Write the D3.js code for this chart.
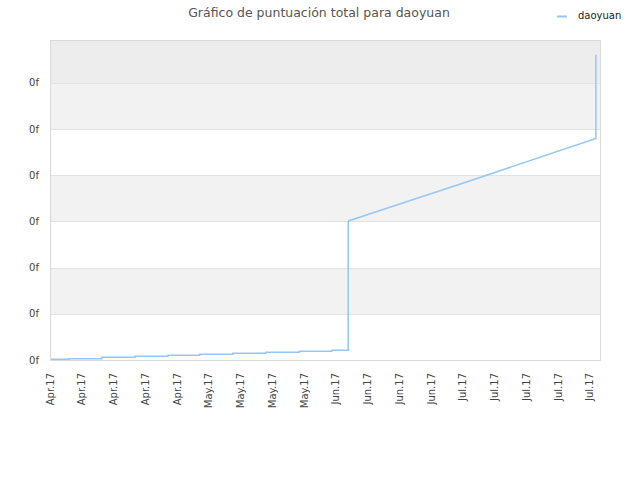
<!DOCTYPE html>
<html>
<head>
<meta charset="utf-8">
<script src="https://cdn.jsdelivr.net/npm/d3@7"></script>
<style>
  body { margin: 0; background: #fff; }
  text { font-family: "DejaVu Sans", sans-serif; }
</style>
</head>
<body>
<script>
// chart text
var title = "Gráfico de puntuación total para daoyuan";
var seriesName = "daoyuan";

// x ticks (days since first label) and their labels
var tickDays = [0, 7, 14, 21, 28, 35, 42, 49, 56, 63, 70, 77, 84, 91, 98, 105, 112, 119];
var tickLabels = ["Apr.17", "Apr.17", "Apr.17", "Apr.17", "Apr.17",
                  "May.17", "May.17", "May.17", "May.17",
                  "Jun.17", "Jun.17", "Jun.17", "Jun.17",
                  "Jul.17", "Jul.17", "Jul.17", "Jul.17", "Jul.17"];

// y ticks (all printed as "0f" in the original)
var yTicks = [0, 1, 2, 3, 4, 5, 6];
var yTickLabel = "0f";

// score series
var days   = [0, 4.0, 11.2, 18.5, 25.8, 32.8, 40.1, 47.4, 54.7, 61.9, 65.5, 92.4, 120.1, 120.1];
var scores = [0.015, 0.028, 0.058, 0.080, 0.102, 0.123, 0.145, 0.167, 0.188, 0.210, 3.01, 3.88, 4.80, 6.61];
var stairEnd = 10; // points up to here are drawn as steps

var w = 640, h = 480;
var plotL = 51, plotR = 600, plotT = 40, plotB = 360;

var svg = d3.select("body").append("svg")
    .attr("width", w)
    .attr("height", h);

var x = d3.scaleLinear().domain([0, 121]).range([plotL, plotR]);
var y = d3.scaleLinear().domain([0, 6.93]).range([plotB, plotT]);

// background bands
var bandEdges = yTicks.concat([6.93]);
svg.selectAll("rect.band")
   .data(d3.range(bandEdges.length - 1))
   .enter()
   .append("rect")
   .attr("class", "band")
   .attr("x", plotL)
   .attr("width", plotR - plotL)
   .attr("y", function(i) { return y(bandEdges[i + 1]); })
   .attr("height", function(i) { return y(bandEdges[i]) - y(bandEdges[i + 1]); })
   .attr("fill", function(i) {
      if (i == bandEdges.length - 2) return "#ededed";
      return i % 2 ? "#f2f2f2" : "#ffffff";
   });

// grid lines
svg.selectAll("line.grid")
   .data(yTicks)
   .enter()
   .append("line")
   .attr("x1", plotL)
   .attr("x2", plotR)
   .attr("y1", function(d) { return Math.round(y(d)) + 0.5; })
   .attr("y2", function(d) { return Math.round(y(d)) + 0.5; })
   .attr("stroke", "#e2e2e2");

// plot border
svg.append("rect")
   .attr("x", plotL - 0.5)
   .attr("y", plotT + 0.5)
   .attr("width", plotR - plotL + 1)
   .attr("height", plotB - plotT)
   .attr("fill", "none")
   .attr("stroke", "#d9d9d9");

// y labels
svg.selectAll("text.ylab")
   .data(yTicks)
   .enter()
   .append("text")
   .text(yTickLabel)
   .attr("text-anchor", "end")
   .attr("x", 39)
   .attr("y", function(d) { return y(d); })
   .attr("dy", "0.35em")
   .attr("font-size", "10px")
   .attr("fill", "#444");

// x labels, rotated
svg.selectAll("text.xlab")
   .data(tickDays)
   .enter()
   .append("text")
   .text(function(d, i) { return tickLabels[i]; })
   .attr("text-anchor", "end")
   .attr("transform", function(d) {
      return "translate(" + (x(d) - 1) + ",373) rotate(-90)";
   })
   .attr("dy", "0.35em")
   .attr("font-size", "10px")
   .attr("fill", "#444");

// series line
var pts = days.map(function(d, i) { return [d, scores[i]]; });
var stepLine = d3.line()
   .x(function(d) { return x(d[0]); })
   .y(function(d) { return y(d[1]); })
   .curve(d3.curveStepAfter);
var straightLine = d3.line()
   .x(function(d) { return x(d[0]); })
   .y(function(d) { return y(d[1]); });

svg.append("path")
   .attr("d", stepLine(pts.slice(0, stairEnd + 1)))
   .attr("fill", "none")
   .attr("stroke", "#95c6f4")
   .attr("stroke-width", 1.5);
svg.append("path")
   .attr("d", straightLine(pts.slice(stairEnd)))
   .attr("fill", "none")
   .attr("stroke", "#95c6f4")
   .attr("stroke-width", 1.5);

// title
svg.append("text")
   .text(title)
   .attr("x", 319)
   .attr("y", 17)
   .attr("text-anchor", "middle")
   .attr("font-size", "12.5px")
   .attr("fill", "#555");

// legend
svg.append("line")
   .attr("x1", 557)
   .attr("x2", 567)
   .attr("y1", 16.5)
   .attr("y2", 16.5)
   .attr("stroke", "#95c6f4")
   .attr("stroke-width", 2);
svg.append("text")
   .text(seriesName)
   .attr("x", 578)
   .attr("y", 19)
   .attr("font-size", "10px")
   .attr("fill", "#222");
</script>
</body>
</html>
